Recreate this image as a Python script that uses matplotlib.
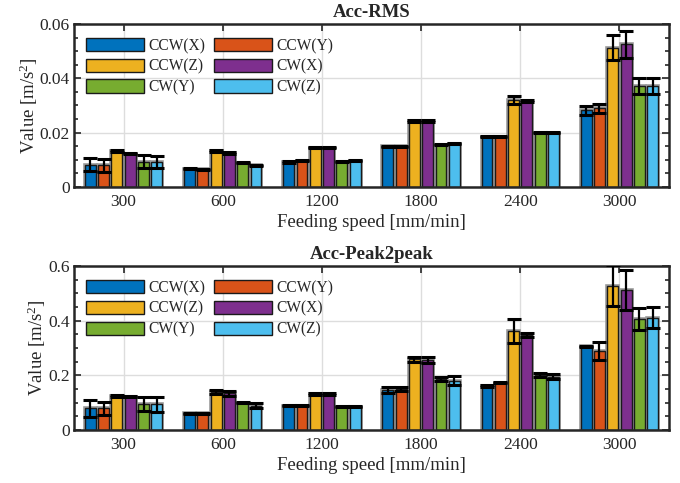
import numpy as np
import matplotlib
matplotlib.use("Agg")
import matplotlib.pyplot as plt
from matplotlib.ticker import MultipleLocator

# data (rows = series, cols = feeding speed)
speeds = ["300", "600", "1200", "1800", "2400", "3000"]
series = ["CCW(X)", "CCW(Y)", "CCW(Z)", "CW(X)", "CW(Y)", "CW(Z)"]
colors = ["#0072BD", "#D95319", "#EDB120", "#7E2F8E", "#77AC30", "#4DBEEE"]

rms_mean = np.array([
    [0.0082, 0.0068, 0.0092, 0.0150, 0.0185, 0.0282],
    [0.0080, 0.0065, 0.0097, 0.0150, 0.0185, 0.0289],
    [0.0133, 0.0133, 0.0145, 0.0244, 0.0320, 0.0513],
    [0.0123, 0.0125, 0.0145, 0.0244, 0.0317, 0.0525],
    [0.0093, 0.0090, 0.0093, 0.0156, 0.0200, 0.0372],
    [0.0092, 0.0080, 0.0097, 0.0160, 0.0200, 0.0371],
])
rms_err = np.array([
    [0.0024, 0.0002, 0.0002, 0.0002, 0.0002, 0.0017],
    [0.0023, 0.0002, 0.0002, 0.0002, 0.0002, 0.0018],
    [0.0003, 0.0003, 0.0003, 0.0003, 0.0016, 0.0046],
    [0.0002, 0.0003, 0.0003, 0.0003, 0.0003, 0.0050],
    [0.0023, 0.0002, 0.0002, 0.0002, 0.0002, 0.0030],
    [0.0021, 0.0002, 0.0002, 0.0002, 0.0002, 0.0030],
])

p2p_mean = np.array([
    [0.079, 0.061, 0.088, 0.146, 0.161, 0.307],
    [0.079, 0.061, 0.088, 0.150, 0.173, 0.289],
    [0.124, 0.140, 0.132, 0.259, 0.362, 0.528],
    [0.122, 0.134, 0.132, 0.256, 0.348, 0.512],
    [0.094, 0.100, 0.085, 0.187, 0.201, 0.405],
    [0.094, 0.089, 0.085, 0.181, 0.195, 0.411],
])
p2p_err = np.array([
    [0.030, 0.002, 0.002, 0.010, 0.002, 0.002],
    [0.024, 0.002, 0.002, 0.009, 0.002, 0.033],
    [0.003, 0.008, 0.005, 0.009, 0.044, 0.075],
    [0.003, 0.008, 0.005, 0.010, 0.008, 0.072],
    [0.026, 0.003, 0.002, 0.008, 0.008, 0.040],
    [0.027, 0.009, 0.002, 0.016, 0.009, 0.038],
])

# style
plt.rcParams["font.family"] = ["Liberation Serif", "DejaVu Serif"]
plt.rcParams["mathtext.fontset"] = "custom"
plt.rcParams["mathtext.rm"] = "Liberation Serif"
plt.rcParams["mathtext.it"] = "Liberation Serif:italic"
txt = "#262626"


def draw_panel(ax, mean, err, title, ymax, ystep, yminor):
    x = np.arange(len(speeds))
    step = 0.134
    width = 0.11
    bars = []
    for k in range(len(series)):
        off = (k - 2.5) * step
        # faint gray halo like the matlab export
        ax.bar(x + off, mean[k], width, color="none", edgecolor="#999999",
               linewidth=2.6, zorder=1.9)
        b = ax.bar(x + off, mean[k], width, color=colors[k], edgecolor="#1a1a1a",
                   linewidth=1.0, label=series[k], zorder=2)
        bars.append(b)
        ax.errorbar(x + off, mean[k], yerr=err[k], fmt="none", ecolor="black",
                    elinewidth=1.6, capsize=5, capthick=2.2, zorder=3)
    ax.set_xlim(-0.5, len(speeds) - 0.5)
    ax.set_ylim(0, ymax)
    ax.set_xticks(x)
    ax.set_xticklabels(speeds)
    ax.yaxis.set_major_locator(MultipleLocator(ystep))
    ax.yaxis.set_minor_locator(MultipleLocator(yminor))
    ax.set_yticklabels(["0" if v == 0 else ("%g" % v) for v in ax.get_yticks()])
    ax.grid(True, which="major", color="#dddddd", linewidth=1.0, zorder=0)
    ax.set_axisbelow(True)
    ax.tick_params(which="both", direction="in", top=True, right=True,
                   colors=txt, labelsize=12.5, width=1.2)
    ax.tick_params(which="major", length=5, pad=5)
    ax.tick_params(which="minor", length=3)
    ax.tick_params(axis="y", pad=3)
    for s in ax.spines.values():
        s.set_linewidth(1.8)
        s.set_color(txt)
    ax.set_title(title, fontsize=13.5, fontweight="bold", color=txt, pad=5)
    ax.set_xlabel("Feeding speed [mm/min]", fontsize=13.5, color=txt, labelpad=3)
    ax.set_ylabel(r"Value [m/s$^2$]", fontsize=13.5, color=txt, labelpad=0)

    # row-wise legend order: matplotlib fills columns first
    order = [0, 2, 4, 1, 3, 5]
    ax.legend([bars[i] for i in order], [series[i] for i in order],
              ncol=2, loc="upper left", bbox_to_anchor=(12 / 595, 1 - 14 / 163),
              frameon=False, fontsize=11.2, handlelength=3.7, handleheight=0.92,
              handletextpad=0.3, columnspacing=0.6, labelspacing=0.3,
              borderpad=0, borderaxespad=0, labelcolor=txt)


fig = plt.figure(figsize=(6.8, 4.83), dpi=100)
ax1 = fig.add_axes([74 / 680, (483 - 187) / 483, 595 / 680, 163 / 483])
ax2 = fig.add_axes([74 / 680, (483 - 430) / 483, 595 / 680, 164 / 483])

draw_panel(ax1, rms_mean, rms_err, "Acc-RMS", 0.06, 0.02, 0.005)
draw_panel(ax2, p2p_mean, p2p_err, "Acc-Peak2peak", 0.6, 0.2, 0.05)

fig.savefig("out.png", dpi=100)
